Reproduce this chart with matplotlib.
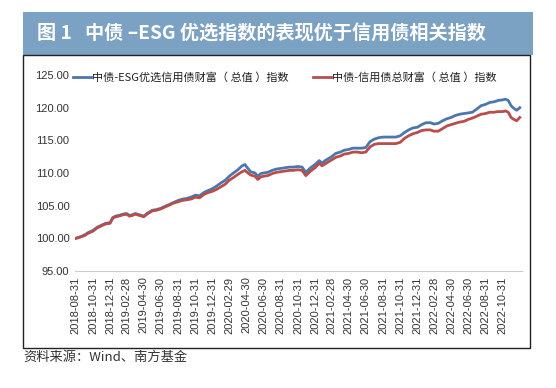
import pandas as pd
import matplotlib.pyplot as plt
from matplotlib.patches import Rectangle

plt.rcParams['font.family'] = ['Noto Sans CJK SC', 'DejaVu Sans']

dates = ['2018-08-31', '2018-09-15', '2018-09-30', '2018-10-15', '2018-10-31', '2018-11-15',
         '2018-11-30', '2018-12-15', '2018-12-31', '2019-01-10', '2019-01-20', '2019-01-31',
         '2019-02-15', '2019-02-28', '2019-03-10', '2019-03-20', '2019-03-31', '2019-04-15',
         '2019-04-30', '2019-05-15', '2019-05-31', '2019-06-15', '2019-06-30', '2019-07-15',
         '2019-07-31', '2019-08-15', '2019-08-31', '2019-09-15', '2019-09-30', '2019-10-15',
         '2019-10-31', '2019-11-15', '2019-11-30', '2019-12-15', '2019-12-31', '2020-01-15',
         '2020-01-31', '2020-02-15', '2020-02-29', '2020-03-15', '2020-03-31', '2020-04-15',
         '2020-04-25', '2020-04-30', '2020-05-15', '2020-05-31', '2020-06-10', '2020-06-20',
         '2020-06-30', '2020-07-15', '2020-07-31', '2020-08-15', '2020-08-31', '2020-09-15',
         '2020-09-30', '2020-10-15', '2020-10-31', '2020-11-15', '2020-11-28', '2020-12-15',
         '2020-12-31', '2021-01-15', '2021-01-25', '2021-02-05', '2021-02-28', '2021-03-15',
         '2021-03-31', '2021-04-15', '2021-04-30', '2021-05-15', '2021-05-31', '2021-06-15',
         '2021-06-30', '2021-07-15', '2021-07-31', '2021-08-15', '2021-08-31', '2021-09-15',
         '2021-09-30', '2021-10-15', '2021-10-31', '2021-11-15', '2021-11-30', '2021-12-15',
         '2021-12-31', '2022-01-15', '2022-01-31', '2022-02-15', '2022-02-28', '2022-03-15',
         '2022-03-31', '2022-04-15', '2022-04-30', '2022-05-15', '2022-05-31', '2022-06-15',
         '2022-06-30', '2022-07-15', '2022-07-31', '2022-08-15', '2022-08-31', '2022-09-15',
         '2022-09-30', '2022-10-15', '2022-10-31', '2022-11-10', '2022-11-20', '2022-11-30',
         '2022-12-10', '2022-12-20', '2022-12-31']

esg = [100.0, 100.2, 100.5, 100.9, 101.2, 101.7,
       102.0, 102.3, 102.4, 103.2, 103.4, 103.5,
       103.7, 103.8, 103.5, 103.6, 103.8, 103.6,
       103.4, 103.9, 104.3, 104.4, 104.6, 104.9,
       105.2, 105.5, 105.8, 106.0, 106.1, 106.3,
       106.6, 106.5, 107.0, 107.3, 107.6, 108.0,
       108.5, 108.9, 109.5, 110.0, 110.5, 111.1,
       111.3, 111.0, 110.2, 110.0, 109.5, 109.9,
       110.0, 110.1, 110.4, 110.6, 110.7, 110.8,
       110.9, 110.9, 111.0, 110.9, 110.1, 110.8,
       111.3, 111.9, 111.5, 111.9, 112.5, 113.0,
       113.2, 113.5, 113.6, 113.8, 113.8, 113.8,
       113.9, 114.8, 115.2, 115.4, 115.5, 115.5,
       115.5, 115.5, 115.7, 116.2, 116.6, 116.9,
       117.0, 117.4, 117.7, 117.7, 117.5, 117.6,
       118.0, 118.3, 118.5, 118.8, 119.0, 119.1,
       119.2, 119.3, 119.8, 120.3, 120.5, 120.8,
       120.9, 121.1, 121.2, 121.3, 121.1, 120.3,
       119.9, 119.6, 120.0]

credit = [100.0, 100.2, 100.4, 100.8, 101.1, 101.6,
          101.9, 102.2, 102.3, 103.1, 103.3, 103.4,
          103.6, 103.7, 103.4, 103.5, 103.7, 103.5,
          103.3, 103.8, 104.2, 104.3, 104.5, 104.8,
          105.1, 105.4, 105.6, 105.8, 105.9, 106.0,
          106.3, 106.2, 106.7, 107.0, 107.2, 107.5,
          107.9, 108.3, 108.9, 109.3, 109.8, 110.2,
          110.4, 110.2, 109.7, 109.5, 109.0, 109.4,
          109.5, 109.6, 109.9, 110.1, 110.2, 110.3,
          110.4, 110.4, 110.5, 110.4, 109.6, 110.3,
          110.8, 111.5, 111.1, 111.4, 112.0, 112.4,
          112.6, 112.9, 113.0, 113.2, 113.2, 113.1,
          113.2, 114.0, 114.4, 114.5, 114.5, 114.5,
          114.5, 114.5, 114.7, 115.3, 115.7, 116.0,
          116.2, 116.5, 116.6, 116.6, 116.4, 116.4,
          116.8, 117.2, 117.4, 117.6, 117.8, 117.9,
          118.2, 118.4, 118.7, 119.0, 119.1, 119.3,
          119.3, 119.4, 119.4, 119.5, 119.3, 118.5,
          118.2, 118.0, 118.5]

tick_labels = ['2018-08-31', '2018-10-31', '2018-12-31', '2019-02-28', '2019-04-30', '2019-06-30',
               '2019-08-31', '2019-10-31', '2019-12-31', '2020-02-29', '2020-04-30', '2020-06-30',
               '2020-08-31', '2020-10-31', '2020-12-31', '2021-02-28', '2021-04-30', '2021-06-30',
               '2021-08-31', '2021-10-31', '2021-12-31', '2022-02-28', '2022-04-30', '2022-06-30',
               '2022-08-31', '2022-10-31']

x = pd.to_datetime(dates)
ticks = pd.to_datetime(tick_labels)

fig = plt.figure(figsize=(5.56, 3.88), dpi=100)

# title band and chart frame
fig.patches.append(Rectangle((23/556, 1-55/388), 510/556, 43/388, transform=fig.transFigure,
                             facecolor='#7ba1c3', edgecolor='none'))
fig.patches.append(Rectangle((23/556, 1-348/388), 507/556, 293/388, transform=fig.transFigure,
                             facecolor='none', edgecolor='#222222', linewidth=1.0))
fig.text(37/556, 1-34/388, '图 1   中债 –ESG 优选指数的表现优于信用债相关指数', color='white',
         fontsize=13.8, fontweight='bold', va='center', ha='left')
fig.text(23/556, 1-357/388, '资料来源：Wind、南方基金', color='#333333', fontsize=9.5,
         va='center', ha='left')

ax = fig.add_axes([75/556, 1-271/388, 447/556, 196/388])
ax.plot(x, esg, color='#4a78ae', linewidth=2.0, label='中债-ESG优选信用债财富（ 总值 ）指数')
ax.plot(x, credit, color='#b84d4b', linewidth=2.0, label='中债-信用债总财富（ 总值 ）指数')

ax.set_ylim(95, 125)
ax.set_yticks([95, 100, 105, 110, 115, 120, 125])
ax.set_yticklabels(['%.2f' % v for v in [95, 100, 105, 110, 115, 120, 125]],
                   family=['Liberation Sans'], fontsize=8, color='#333333')
ax.set_xlim(x[0] - pd.Timedelta(days=3), x[-1] + pd.Timedelta(days=8))
ax.set_xticks(ticks)
ax.set_xticklabels(tick_labels, rotation=90, family=['Liberation Sans'], fontsize=8,
                   color='#333333')
ax.tick_params(length=0, pad=4)
for s in ['top', 'right', 'left']:
    ax.spines[s].set_visible(False)
ax.spines['bottom'].set_color('#cccccc')
ax.spines['bottom'].set_linewidth(0.8)

ax.legend(loc='upper center', bbox_to_anchor=(0.47, 1.065), ncol=2, frameon=False,
          fontsize=8, handlelength=1.6, handletextpad=0.1, columnspacing=2.2,
          labelcolor='#222222')

fig.savefig('out.png', dpi=100)
